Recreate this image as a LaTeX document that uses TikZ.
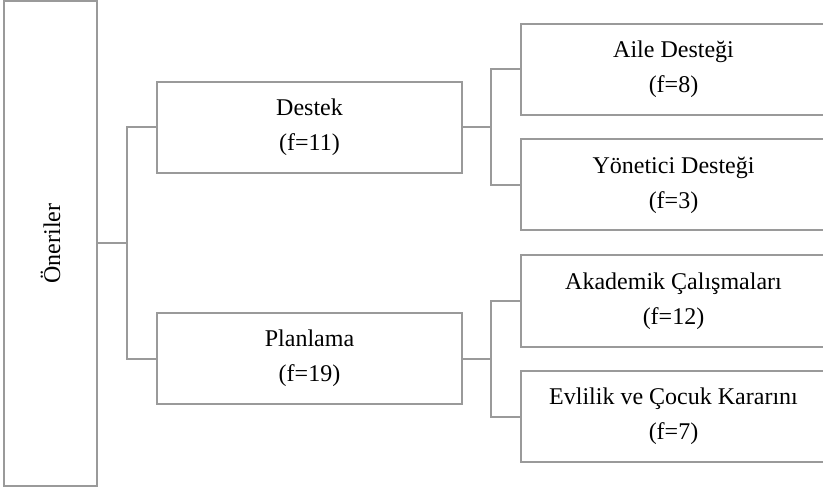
\documentclass[tikz,border=0pt]{standalone}
\usepackage{fontspec}
\setmainfont{Liberation Serif}
\definecolor{cline}{HTML}{9A9A9A}
\tikzset{kutu/.style={draw=cline,line width=1pt,inner sep=0pt,minimum width=152.5pt,minimum height=45.5pt,align=center,font=\fontsize{12}{17.5}\selectfont}}

\begin{document}
\begin{tikzpicture}[x=0.5pt,y=-0.5pt]
  \useasboundingbox (0,0) rectangle (823,491);
  \clip (0,0) rectangle (823,491);
  \node[kutu,minimum width=46.5pt,minimum height=242.5pt] (oneriler) at (50.5,243.5) {\rotatebox{90}{Öneriler}};
  \node[kutu] (destek) at (309.5,127.5) {Destek\\(f=11)};
  \node[kutu] (planlama) at (309.5,358.5) {Planlama\\(f=19)};
  \node[kutu] (aile) at (673.5,69.5) {Aile Desteği\\(f=8)};
  \node[kutu] (yonetici) at (673.5,185) {Yönetici Desteği\\(f=3)};
  \node[kutu] (akademik) at (673.5,301) {Akademik Çalışmaları\\(f=12)};
  \node[kutu] (evlilik) at (673.5,416.5) {Evlilik ve Çocuk Kararını\\(f=7)};
  % kollar
  \coordinate (k1) at (127,243.5);
  \coordinate (k2) at (491,127.5);
  \coordinate (k3) at (491,358.5);
  \draw[cline,line width=1pt] (oneriler.east) -- (k1) |- (destek.west);
  \draw[cline,line width=1pt] (k1) |- (planlama.west);
  \draw[cline,line width=1pt] (destek.east) -- (k2) |- (aile.west);
  \draw[cline,line width=1pt] (k2) |- (yonetici.west);
  \draw[cline,line width=1pt] (planlama.east) -- (k3) |- (akademik.west);
  \draw[cline,line width=1pt] (k3) |- (evlilik.west);
\end{tikzpicture}
\end{document}
